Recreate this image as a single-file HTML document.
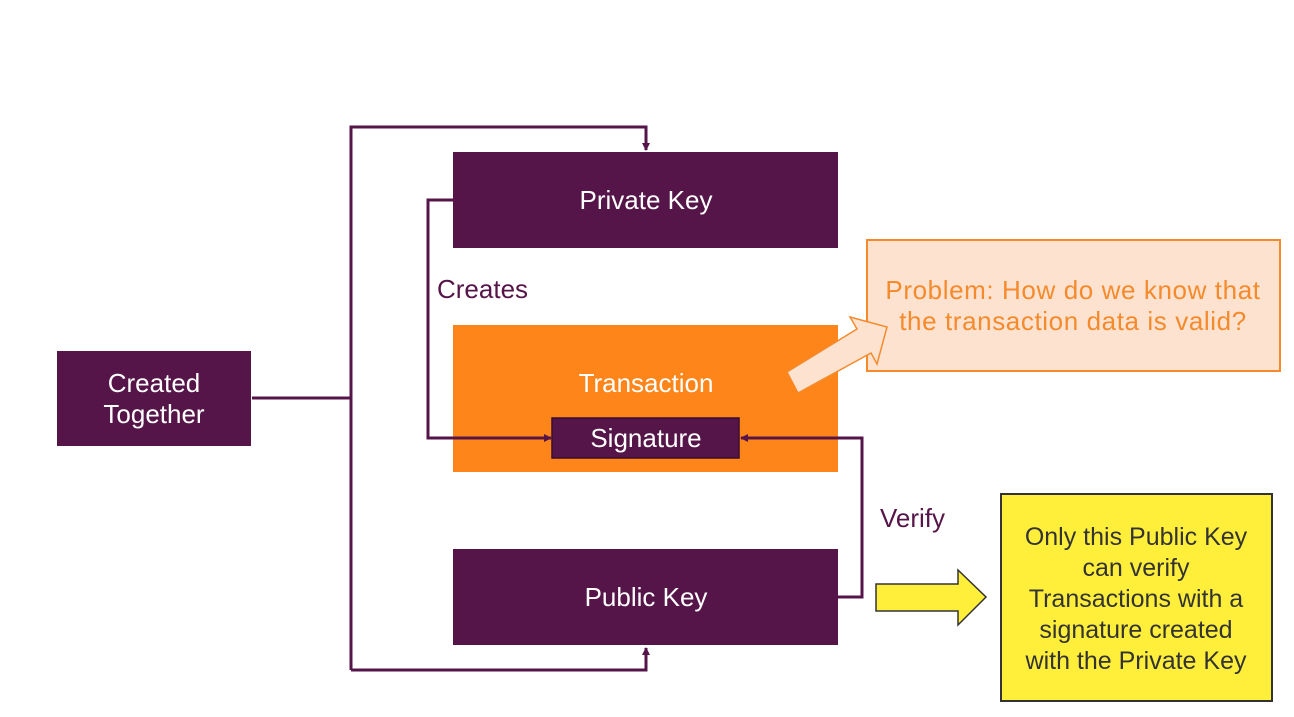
<!DOCTYPE html>
<html><head><meta charset="utf-8"><style>
body{margin:0;width:1294px;height:717px;background:#fff;overflow:hidden;font-family:"Liberation Sans","DejaVu Sans",sans-serif}
</style></head><body>
<svg width="1294" height="717" xmlns="http://www.w3.org/2000/svg" style="position:absolute;left:0;top:0">
<defs><marker id="a" markerWidth="8" markerHeight="8" refX="7" refY="4" orient="auto" markerUnits="userSpaceOnUse"><path d="M0,0 L8,4 L0,8z" fill="#561548"/></marker></defs>
<rect x="57" y="351" width="194" height="95" fill="#561548"/>
<rect x="453" y="152" width="385" height="96" fill="#561548"/>
<rect x="453" y="325" width="385" height="147" fill="#fe8519"/>
<rect x="552" y="418" width="187" height="40" fill="#561548" stroke="#3a0c30" stroke-width="1.5"/>
<rect x="453" y="549" width="385" height="96" fill="#561548"/>
<g stroke="#561548" stroke-width="3" fill="none">
<polyline points="252,398 351,398"/>
<polyline points="351,670 351,127 646,127 646,150" marker-end="url(#a)"/>
<polyline points="351,670 646,670 646,648" marker-end="url(#a)"/>
<polyline points="453,200 428,200 428,438 551,438" marker-end="url(#a)"/>
<polyline points="838,597 862,597 862,438 741,438" marker-end="url(#a)"/>
</g>
<rect x="867" y="240" width="413" height="131" fill="#fde3cf" stroke="#f58a2d" stroke-width="2"/>
<polygon points="787,372 857,329 850,317 887,327 877,364 871,353 798,393" fill="#fde3cf" stroke="#f58a2d" stroke-width="1.5"/>
<polygon points="876,584 958,584 958,570 986,597 958,625 958,611 876,611" fill="#ffef3a" stroke="#333" stroke-width="1.5"/>
<rect x="1001" y="494" width="271" height="207" fill="#ffef3a" stroke="#333" stroke-width="2"/>
<g font-size="26" text-anchor="middle" fill="#fff">
<text x="154" y="392">Created</text><text x="154" y="423">Together</text>
<text x="646" y="209">Private Key</text>
<text x="646" y="392">Transaction</text>
<text x="646" y="447">Signature</text>
<text x="646" y="606">Public Key</text>
</g>
<g font-size="26" fill="#561548">
<text x="437" y="298">Creates</text>
<text x="880" y="527">Verify</text>
</g>
<g font-size="26" text-anchor="middle" fill="#f58a2d" letter-spacing="0.6">
<text x="1073" y="299">Problem: How do we know that</text>
<text x="1073" y="330">the transaction data is valid?</text>
</g>
<g font-size="25" text-anchor="middle" fill="#333">
<text x="1136" y="545">Only this Public Key</text>
<text x="1136" y="576">can verify</text>
<text x="1136" y="607">Transactions with a</text>
<text x="1136" y="638">signature created</text>
<text x="1136" y="669">with the Private Key</text>
</g>
</svg>
</body></html>
